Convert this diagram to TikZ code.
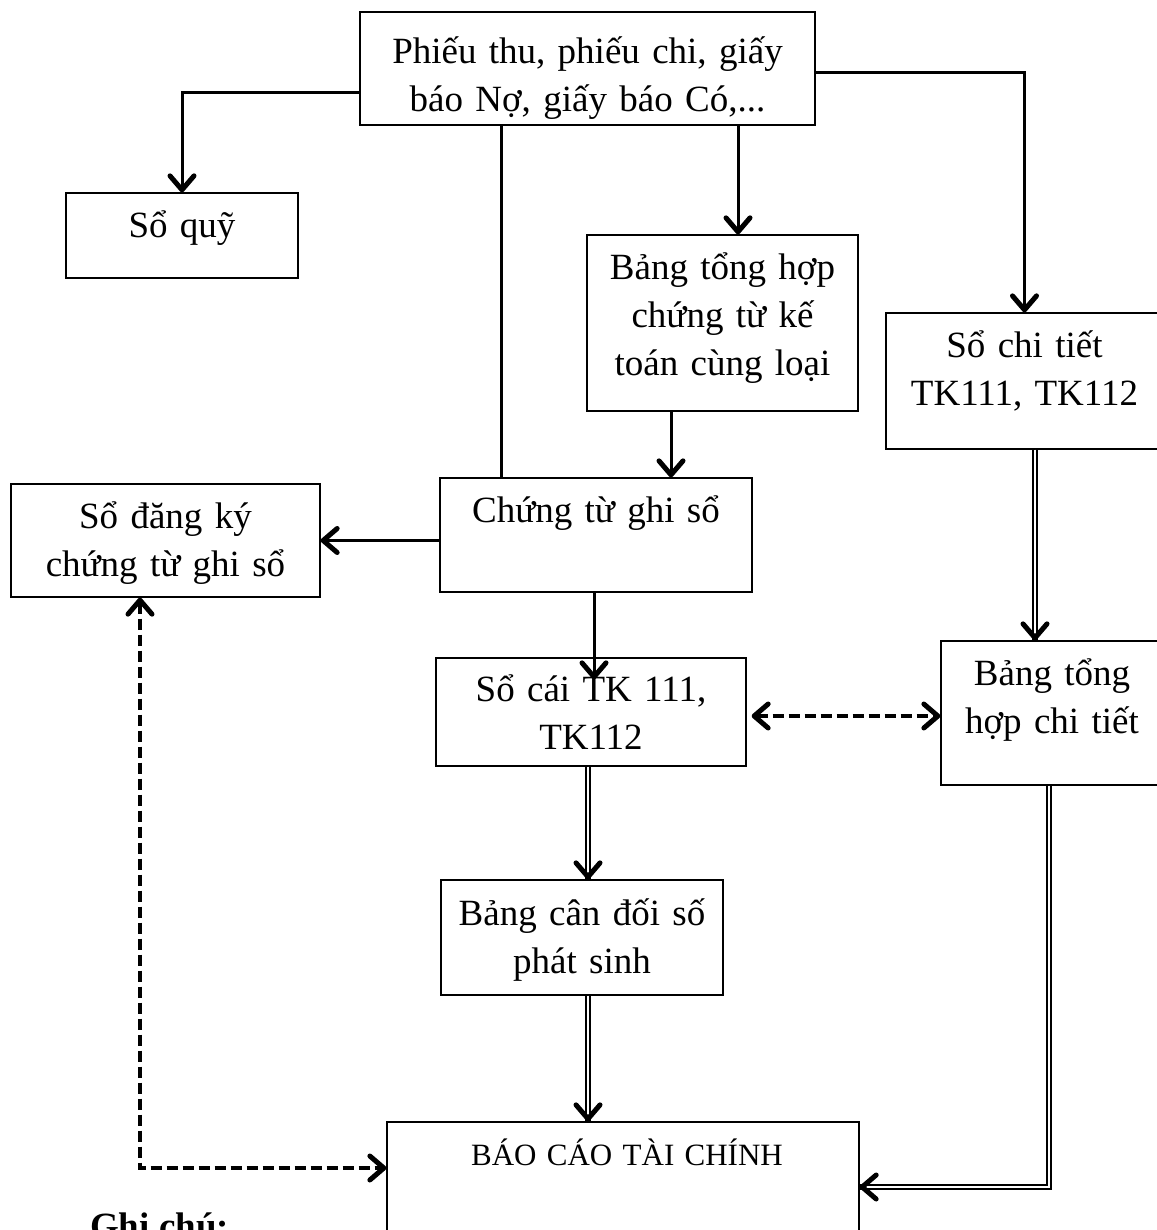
\documentclass[tikz,border=0pt]{standalone}
\usepackage{fontspec}
\setmainfont{Liberation Serif}
\usetikzlibrary{arrows.meta,calc}
\begin{document}
\begin{tikzpicture}[x=1pt,y=-1pt,
  >={Straight Barb[length=14pt,width=24pt,line width=5pt,round]},
  box/.style={draw, line width=1.3pt, inner sep=0pt},
  lbl/.style={anchor=base, align=center, inner sep=0pt,
              font=\fontsize{37}{48}\selectfont},
  flow/.style={line width=3pt},
  arr/.style={flow, ->},
  dsh/.style={line width=3.2pt, dash pattern=on 11pt off 5pt},
  dbl/.style={line width=1.6pt, double=white, double distance=2.2pt},
  tipseg/.style={line width=0.6pt, ->},
]
\useasboundingbox (0,0) rectangle (1156,1230);

% boxes
\node[box, minimum width=455pt, minimum height=113pt] (src)  at (587.5,68.5) {};
\node[box, minimum width=232pt, minimum height=85pt]  (quy)  at (182,235.5) {};
\node[box, minimum width=271pt, minimum height=176pt] (bth)  at (722.5,323) {};
\node[box, minimum width=277pt, minimum height=136pt] (sct)  at (1024.5,381) {};
\node[box, minimum width=309pt, minimum height=113pt] (sdk)  at (165.5,540.5) {};
\node[box, minimum width=312pt, minimum height=114pt] (ctgs) at (596,535) {};
\node[box, minimum width=310pt, minimum height=108pt] (sc)   at (591,712) {};
\node[box, minimum width=222pt, minimum height=144pt] (thct) at (1052,713) {};
\node[box, minimum width=282pt, minimum height=115pt] (cdps) at (582,937.5) {};
\node[box, minimum width=472pt, minimum height=138pt] (bctc) at (623,1191) {};

% box texts
\node[lbl, text width=445pt] (src-t)  at ([yshift=-52pt]src.north)  {Phiếu thu, phiếu chi, giấy\\báo Nợ, giấy báo Có,...};
\node[lbl, text width=222pt] (quy-t)  at ([yshift=-45pt]quy.north)  {Sổ quỹ};
\node[lbl, text width=261pt] (bth-t)  at ([yshift=-45pt]bth.north)  {Bảng tổng hợp\\chứng từ kế\\toán cùng loại};
\node[lbl, text width=267pt] (sct-t)  at ([yshift=-45pt]sct.north)  {Sổ chi tiết\\TK111, TK112};
\node[lbl, text width=299pt] (sdk-t)  at ([yshift=-45pt]sdk.north)  {Sổ đăng ký\\chứng từ ghi sổ};
\node[lbl, text width=302pt] (ctgs-t) at ([yshift=-45pt]ctgs.north) {Chứng từ ghi sổ};
\node[lbl, text width=300pt] (sc-t)   at ([yshift=-44pt]sc.north)   {Sổ cái TK 111,\\TK112};
\node[lbl, text width=212pt] (thct-t) at ([yshift=-45pt]thct.north) {Bảng tổng\\hợp chi tiết};
\node[lbl, text width=272pt] (cdps-t) at ([yshift=-46pt]cdps.north) {Bảng cân đối số\\phát sinh};
\node[lbl, text width=462pt, font=\fontsize{31}{40}\selectfont] (bctc-t) at ([yshift=-44pt,xshift=4pt]bctc.north) {BÁO CÁO TÀI CHÍNH};

\node[anchor=base west, inner sep=0pt, font=\fontsize{37}{44}\selectfont\bfseries] (note) at (90,1238) {Ghi chú:};

% routing lanes
\coordinate (y1)  at (0,93);
\coordinate (x2)  at (501,0);
\coordinate (x3)  at (738,0);
\coordinate (y4)  at (0,73);
\coordinate (x5)  at (671,0);
\coordinate (x7)  at (594,0);
\coordinate (x8)  at (1035,0);
\coordinate (y9)  at (0,716);
\coordinate (x10) at (588,0);
\coordinate (x12) at (1049,0);
\coordinate (y12) at (0,1187);
\coordinate (x13) at (140,0);
\coordinate (y13) at (0,1168);

% solid connectors
\draw[arr]  (src.west |- y1) -| (quy.north);
\draw[flow] (src.south -| x2) -- (ctgs.north -| x2);
\draw[arr]  (src.south -| x3) -- (bth.north -| x3);
\draw[arr]  (src.east |- y4) -| (sct.north);
\draw[arr]  (bth.south -| x5) -- (ctgs.north -| x5);
\draw[arr]  (ctgs.west |- sdk.east) -- (sdk.east);
\draw[arr]  (ctgs.south -| x7) -- ($(sc.north -| x7)+(0,22)$);

% double connectors
\draw[dbl] (sct.south -| x8) -- (thct.north -| x8);
\draw[tipseg] ($(thct.north -| x8)+(0,-3)$) -- (thct.north -| x8);
\draw[dbl] (sc.south -| x10) -- (cdps.north -| x10);
\draw[tipseg] ($(cdps.north -| x10)+(0,-3)$) -- (cdps.north -| x10);
\draw[dbl] (cdps.south -| x10) -- (bctc.north -| x10);
\draw[tipseg] ($(bctc.north -| x10)+(0,-3)$) -- (bctc.north -| x10);
\draw[dbl] (thct.south -| x12) |- (bctc.east |- y12);
\draw[tipseg] ($(bctc.east |- y12)+(3,0)$) -- (bctc.east |- y12);

% dashed connectors
\draw[dsh, <->] ($(sc.east |- y9)+(5,0)$) -- (thct.west |- y9);
\draw[dsh, <->] (sdk.south -| x13) |- (bctc.west |- y13);
\end{tikzpicture}
\end{document}
